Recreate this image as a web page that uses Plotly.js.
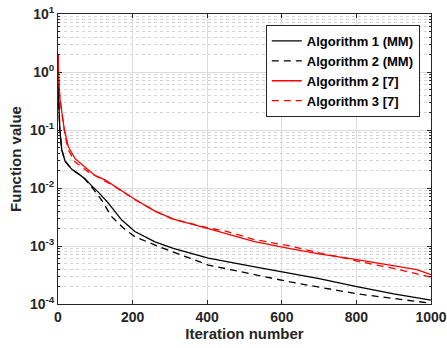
<!DOCTYPE html>
<html>
<head>
<meta charset="utf-8">
<script src="https://cdn.plot.ly/plotly-3.0.1.min.js"></script>
<style>html,body{margin:0;padding:0;background:#fff;}#chart{width:447px;height:348px;}</style>
</head>
<body>
<div id="chart"></div>
<script>
// Algorithm 1 (MM) - black solid
const alg1MM_iter = [0, 1, 2, 5, 10, 19, 37, 55, 72, 90, 108, 135, 171, 206, 260, 309, 403, 524, 622, 700, 801, 900, 1000];
const alg1MM_val  = [2.0, 0.6, 0.3, 0.1, 0.046, 0.029, 0.021, 0.0175, 0.0145, 0.011, 0.0085, 0.0055, 0.0028, 0.00178, 0.00118, 9.1e-4, 6.2e-4, 4.4e-4, 3.4e-4, 2.75e-4, 2.0e-4, 1.5e-4, 1.17e-4];
// Algorithm 2 (MM) - black dashed
const alg2MM_iter = [0, 1, 2, 5, 10, 19, 37, 55, 72, 90, 117, 144, 175, 206, 273, 403, 524, 622, 801, 900, 1000];
const alg2MM_val  = [2.0, 0.6, 0.3, 0.1, 0.046, 0.029, 0.021, 0.0175, 0.0143, 0.0105, 0.0062, 0.0032, 0.00204, 0.00145, 9.6e-4, 4.7e-4, 3.2e-4, 2.4e-4, 1.5e-4, 1.25e-4, 1.03e-4];
// Algorithm 2 [7] - red solid
const alg2Ref_iter = [0, 1, 2, 5, 10, 17, 28, 46, 72, 99, 126, 153, 206, 260, 309, 403, 524, 622, 700, 801, 900, 962, 1000];
const alg2Ref_val  = [1.96, 1.0, 0.7, 0.35, 0.19, 0.1, 0.051, 0.032, 0.023, 0.0165, 0.0138, 0.0107, 0.0064, 0.0040, 0.0029, 0.0020, 0.0012, 9.0e-4, 7.3e-4, 5.8e-4, 4.6e-4, 3.9e-4, 3.2e-4];
// Algorithm 3 [7] - red dashed
const alg3Ref_iter = [0, 1, 2, 5, 10, 17, 22, 28, 46, 81, 110, 153, 206, 260, 309, 403, 450, 524, 622, 700, 780, 801, 900, 1000];
const alg3Ref_val  = [1.96, 1.0, 0.7, 0.35, 0.19, 0.1, 0.065, 0.045, 0.028, 0.019, 0.015, 0.0105, 0.0063, 0.0040, 0.0029, 0.00205, 0.0018, 0.0013, 1.0e-3, 7.6e-4, 6.0e-4, 5.5e-4, 4.1e-4, 2.9e-4];

const seriesNames = ['Algorithm 1 (MM)', 'Algorithm 2 (MM)', 'Algorithm 2 [7]', 'Algorithm 3 [7]'];
const xTicks = [0, 200, 400, 600, 800, 1000];
const yTickVals = [1e-4, 1e-3, 1e-2, 1e-1, 1, 10];
const yTickText = ['10<sup>-4</sup>', '10<sup>-3</sup>', '10<sup>-2</sup>', '10<sup>-1</sup>', '10<sup>0</sup>', '10<sup>1</sup>'];

const fontFam = 'Liberation Sans, Arial, sans-serif';
const traces = [
  {x: alg1MM_iter, y: alg1MM_val, name: seriesNames[0], mode: 'lines', line: {color: '#000000', width: 1.3}},
  {x: alg2MM_iter, y: alg2MM_val, name: seriesNames[1], mode: 'lines', line: {color: '#000000', width: 1.3, dash: '7px,5px'}},
  {x: alg2Ref_iter, y: alg2Ref_val, name: seriesNames[2], mode: 'lines', line: {color: '#ff0000', width: 1.3}},
  {x: alg3Ref_iter, y: alg3Ref_val, name: seriesNames[3], mode: 'lines', line: {color: '#ff0000', width: 1.3, dash: '7px,5px'}}
];

const layout = {
  width: 447, height: 348,
  margin: {l: 58, r: 16, t: 14, b: 44},
  paper_bgcolor: '#ffffff', plot_bgcolor: '#ffffff',
  font: {family: fontFam, size: 14, color: '#262626', weight: 'bold'},
  showlegend: true,
  legend: {x: 0.97, xanchor: 'right', y: 0.962, yanchor: 'top', bgcolor: '#ffffff',
           bordercolor: '#262626', borderwidth: 1, font: {family: fontFam, size: 13, color: '#000', weight: 'bold'},
           tracegroupgap: 0, itemwidth: 30},
  xaxis: {
    range: [0, 1000], tickvals: xTicks, ticks: 'inside', ticklen: 4, tickcolor: '#262626',
    showline: true, linecolor: '#262626', linewidth: 1, mirror: 'ticks',
    showgrid: true, gridcolor: '#dcdcdc', gridwidth: 1, zeroline: false,
    tickfont: {family: fontFam, size: 14, color: '#262626', weight: 'bold'},
    title: {text: 'Iteration number', font: {family: fontFam, size: 15, color: '#262626', weight: 'bold'}, standoff: 3}
  },
  yaxis: {
    type: 'log', range: [-4, 1], tickvals: yTickVals, ticktext: yTickText,
    ticks: 'inside', ticklen: 4, tickcolor: '#262626',
    showline: true, linecolor: '#262626', linewidth: 1, mirror: 'ticks',
    showgrid: true, gridcolor: '#dcdcdc', gridwidth: 1, zeroline: false,
    minor: {dtick: 'D1', ticks: 'inside', ticklen: 2, tickcolor: '#262626', showgrid: true, gridcolor: '#d4d4d4', griddash: 'dot', gridwidth: 1},
    tickfont: {family: fontFam, size: 14, color: '#262626', weight: 'bold'},
    title: {text: 'Function value', font: {family: fontFam, size: 15, color: '#262626', weight: 'bold'}, standoff: 4}
  }
};

Plotly.newPlot('chart', traces, layout, {displayModeBar: false, staticPlot: true});
</script>
</body>
</html>
